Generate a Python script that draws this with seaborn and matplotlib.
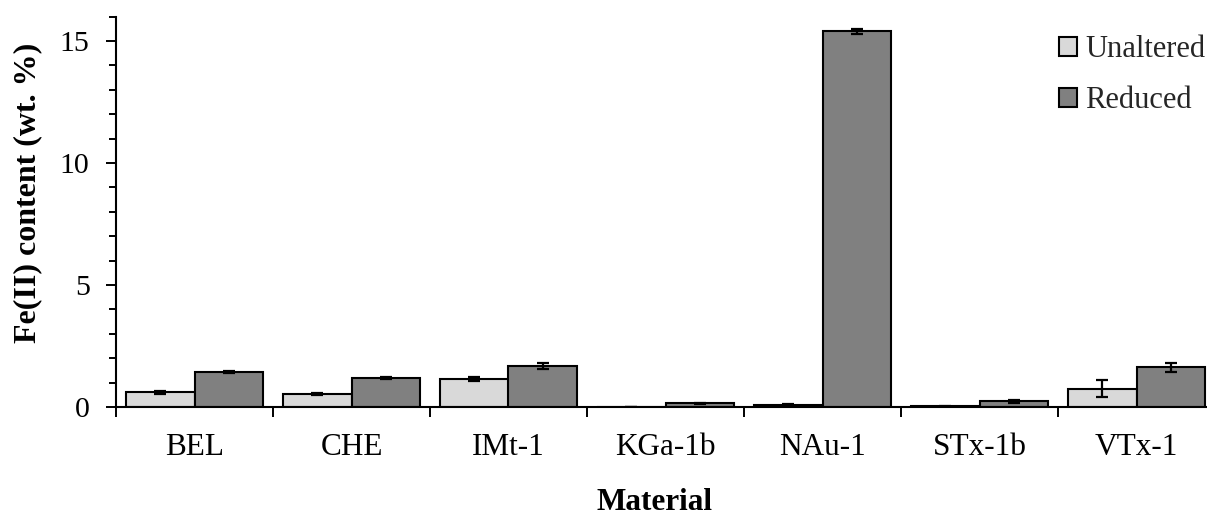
import numpy as np
import pandas as pd
import matplotlib
matplotlib.use("Agg")
import matplotlib.pyplot as plt
from matplotlib.ticker import MultipleLocator, FixedLocator, NullFormatter
import seaborn as sns

# Fe(II) content per clay material, before and after reduction
materials = ["BEL", "CHE", "IMt-1", "KGa-1b", "NAu-1", "STx-1b", "VTx-1"]
unaltered = [0.60, 0.53, 1.15, 0.01, 0.09, 0.03, 0.75]
unaltered_err = [0.07, 0.04, 0.10, 0.00, 0.03, 0.02, 0.35]
reduced = [1.45, 1.20, 1.69, 0.15, 15.40, 0.23, 1.63]
reduced_err = [0.04, 0.05, 0.12, 0.03, 0.10, 0.05, 0.18]
series = ["Unaltered", "Reduced"]

df = pd.DataFrame({
    "Material": materials * 2,
    "Treatment": [series[0]] * len(materials) + [series[1]] * len(materials),
    "value": unaltered + reduced,
    "err": unaltered_err + reduced_err,
})

sns.set_theme(style="ticks")
plt.rcParams["font.family"] = ["Liberation Serif", "DejaVu Serif"]

fig = plt.figure(figsize=(12.07, 5.17), dpi=100)
ax = fig.add_axes([116 / 1207, 1 - 407 / 517, 1099 / 1207, (407 - 16.6) / 517])

sns.barplot(
    data=df, x="Material", y="value", hue="Treatment", order=materials,
    hue_order=series, palette=["#d9d9d9", "#808080"], width=0.87,
    errorbar=None, edgecolor="black", linewidth=1.5, ax=ax, saturation=1,
)

# error bars placed at the centres of the drawn bars
for cont, errs in zip(ax.containers, [unaltered_err, reduced_err]):
    xs = [p.get_x() + p.get_width() / 2 for p in cont.patches]
    hs = [p.get_height() for p in cont.patches]
    ax.errorbar(xs, hs, yerr=errs, fmt="none", ecolor="black",
                elinewidth=1.6, capsize=4, capthick=1.6, zorder=5)

ax.set_xlim(-0.5, len(materials) - 0.5)
ax.set_ylim(0, 16)
ax.yaxis.set_major_locator(FixedLocator([0, 5, 10, 15]))
ax.yaxis.set_minor_locator(MultipleLocator(1))
ax.tick_params(axis="y", which="major", direction="out", length=7, width=1.4,
               labelsize=21.5, pad=12, color="black", labelcolor="black")
ax.tick_params(axis="y", which="minor", direction="out", length=5, width=1.4,
               color="black")

# category labels at centres, tick marks at group boundaries
ax.xaxis.set_major_locator(FixedLocator(range(len(materials))))
ax.set_xticklabels(materials)
ax.xaxis.set_minor_locator(FixedLocator(np.arange(-0.5, len(materials), 1.0)))
ax.xaxis.set_minor_formatter(NullFormatter())
ax.tick_params(axis="x", which="major", length=0, labelsize=22.5, pad=19,
               labelcolor="black")
ax.tick_params(axis="x", which="minor", direction="out", length=7, width=1.4,
               color="black")

for side in ["top", "right"]:
    ax.spines[side].set_visible(False)
for side in ["left", "bottom"]:
    ax.spines[side].set_color("black")
    ax.spines[side].set_linewidth(1.5)

ax.set_xlabel("Material", fontsize=22.5, fontweight="bold", color="black")
ax.set_ylabel("Fe(II) content (wt. %)", fontsize=23, fontweight="bold",
              color="black")
ax.xaxis.set_label_coords(0.49, -0.208)
ax.yaxis.set_label_coords(-0.067, 0.548)

ax.get_legend().remove()
handles, labels = ax.get_legend_handles_labels()
fig.legend(handles, labels, loc="upper left",
           bbox_to_anchor=(1059 / 1207, 1 - 35 / 517), frameon=False,
           fontsize=22, handlelength=0.6, handleheight=0.6,
           handletextpad=0.25, labelspacing=0.73, borderaxespad=0,
           borderpad=0)

fig.savefig("out.png", dpi=100)
